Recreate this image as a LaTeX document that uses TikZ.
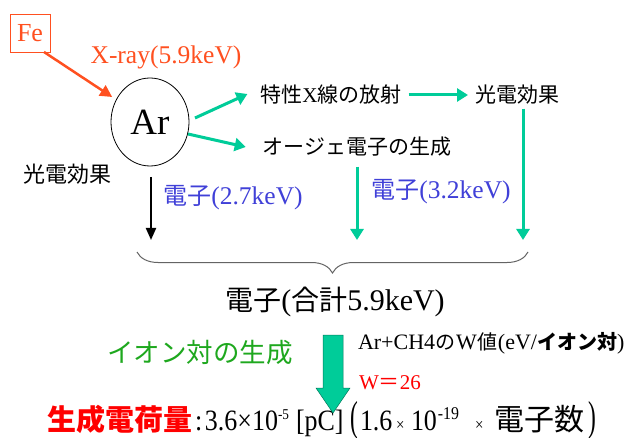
\documentclass[tikz,border=0pt]{standalone}
\usepackage{fontspec}
\setmainfont{Liberation Serif}
\newfontfamily\rmc[FakeStretch=0.88]{Liberation Serif}
\newfontfamily\jp{Noto Sans CJK JP}
\usetikzlibrary{arrows.meta,shapes.geometric,decorations.pathreplacing}
\definecolor{xorange}{RGB}{255,80,32}
\definecolor{xteal}{RGB}{0,204,153}
\definecolor{xblue}{RGB}{64,64,216}
\definecolor{xgreen}{RGB}{30,168,30}
\definecolor{xred}{RGB}{255,0,0}
\definecolor{xgray}{RGB}{100,100,100}
\newcommand\fs[1]{\fontsize{#1}{#1}\selectfont}
\newcommand\myexp[2]{\raisebox{11pt}{\fs{#1}#2}}
\newcommand\bigpar[1]{\scalebox{0.9}[1.42]{#1}}
\newcommand\cell[2]{\makebox[#1pt][l]{#2}}
\begin{document}
\begin{tikzpicture}[x=1pt,y=-1pt,
  every node/.style={inner sep=0pt,outer sep=0pt},
  lbl/.style={font=\fs{21}},
  tarrow/.style={draw=xteal,line width=3pt,-{Triangle[length=11pt,width=13pt]}},
  karrow/.style={draw=black,line width=2pt,-{Triangle[length=12pt,width=10pt]}},
  oarrow/.style={draw=xorange,line width=2.5pt,-{Triangle[length=12pt,width=12pt]}},
  bracestyle/.style={draw=xgray,line width=1pt,decorate,decoration={brace,mirror,amplitude=21pt}},
  blockarrow/.style={fill=xteal,draw=xteal!60!black,line width=0.5pt}
]
\fill[white] (0,0) rectangle (631,438);
\useasboundingbox (0,0) rectangle (631,438);

% nodes
\node[draw=xorange,line width=0.8pt,minimum width=40pt,minimum height=38pt,text=xorange,font=\fs{26}] (fe) at (30,33) {Fe};
\node[text=xorange,font=\fs{25.5}] (xray) at (166,57) {X-ray(5.9keV)};
\node[ellipse,draw,line width=0.8pt,minimum width=78pt,minimum height=88pt,font=\fs{37}] (ar) at (150,122) {Ar};
\node[lbl] (tok) at (331,95) {{\jp 特性}X{\jp 線の放射}};
\node[lbl] (kr) at (517,95) {\jp 光電効果};
\node[lbl] (auger) at (357,147) {\jp オージェ電子の生成};
\node[font=\fs{22}] (kl) at (67,174) {\jp 光電効果};
\node[text=xblue] (e27) at (233,198) {{\jp\fs{24}電子}{\fs{25.5}(2.7keV)}};
\node[text=xblue] (e32) at (441,192) {{\jp\fs{24}電子}{\fs{25.5}(3.2keV)}};
\node (sum) at (335,302) {{\jp\fs{28}電子}{\fs{30}(}{\jp\fs{28}合計}{\fs{30}5.9keV)}};
\node[text=xgreen,font=\jp\fs{26.5}] (ion) at (200,353) {イオン対の生成};
\node[anchor=west] (wval) at (358,343) {{\fs{22}Ar+CH4}{\jp\fs{20}の}{\fs{22}\kern1ptW\kern1pt}{\jp\fs{20}値}{\fs{22}(eV/}{\jp\bfseries\fs{20}イオン対}{\fs{22})}};
\node[anchor=west,text=xred] (w26) at (359,383) {{\fs{21}W}{\jp\fs{21}＝}{\fs{21}26}};
\node[anchor=base west] (charge) at (47,430) {\rmc\fs{29.5}%
  \cell{148}{\jp\bfseries\fs{29}\color{xred}生成電荷量}%
  \cell{10}{:}%
  \cell{91}{3.6×10\myexp{15}{-5}}%
  \cell{54}{[pC]}%
  \cell{10}{\bigpar{(}}%
  \cell{36}{1.6}%
  \cell{15}{\fs{17}×}%
  \cell{64}{10\kern1pt\myexp{18}{-19}}%
  \cell{19}{\fs{17}×}%
  \cell{94}{\jp\fs{30}電子数}%
  \bigpar{)}};

% end points
\coordinate (e1) at (151,240);
\coordinate (e2) at (357,240);
\coordinate (e3) at (523,240);
\coordinate (b1) at (137,252);
\coordinate (b2) at (528,252);

% connectors
\draw[oarrow,shorten >=5pt] ([xshift=-6pt]fe.south east) -- (ar);
\draw[tarrow] ([shift={(6,-4)}]ar.east) -- ([shift={(-13,-1)}]tok.west);
\draw[tarrow] ([shift={(-1,12)}]ar.east) -- ([xshift=-17pt]auger.west);
\draw[tarrow] ([xshift=7pt]tok.east) -- ([xshift=-7pt]kr.west);
\draw[tarrow] ([shift={(6,4)}]kr.south) -- (e3);
\draw[tarrow] ([shift={(0,10)}]auger.south) -- (e2);
\draw[karrow] ([shift={(1,11)}]ar.south) -- (e1);
\draw[bracestyle] (b1) -- (b2);
\draw[blockarrow] (323,335) -- (343,335) -- (343,388) -- (350,388) -- (333,413) -- (316,388) -- (323,388) -- cycle;
\end{tikzpicture}
\end{document}
